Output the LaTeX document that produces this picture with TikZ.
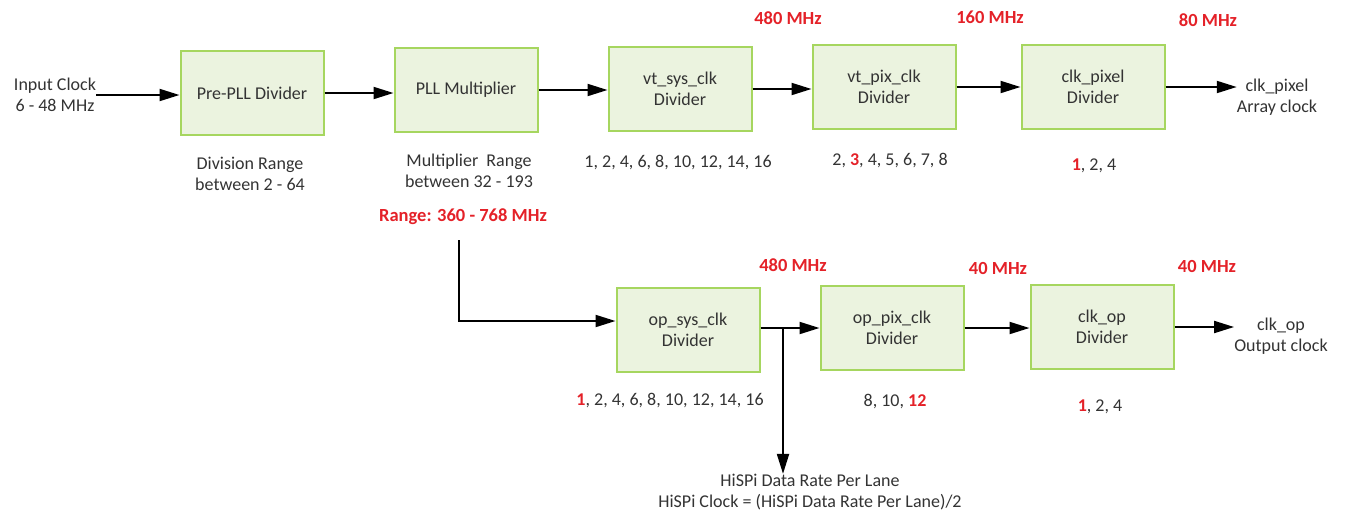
\documentclass[tikz,border=0pt]{standalone}
\usepackage{fontspec}
\setmainfont{Carlito}
\usetikzlibrary{positioning,arrows.meta,calc}
\definecolor{boxfill}{HTML}{EBF3DF}
\definecolor{boxline}{HTML}{A6D65F}
\definecolor{mhzred}{HTML}{E42128}
\definecolor{txtgray}{HTML}{333333}
\newcommand{\hl}[1]{\textcolor{mhzred}{\textbf{#1}}}
\tikzset{
  blk/.style={draw=boxline,fill=boxfill,line width=2pt,minimum width=143pt,
    minimum height=84pt,align=center,text=txtgray,inner sep=0pt},
  lbl/.style={align=center,text=txtgray,inner sep=0pt},
  freq/.style={text=mhzred,font=\fontsize{18.5}{21}\selectfont\bfseries,inner sep=0pt},
  conn/.style={line width=2pt,-{Triangle[length=20pt,width=12pt]}}
}
\begin{document}
\begin{tikzpicture}[x=1pt,y=-1pt,font=\fontsize{18}{21}\selectfont]
  \useasboundingbox (0,0) rectangle (1348,517);
  % upper chain: input, pre divider, PLL and the pixel clock path
  \node[lbl] (incl) at (55,95) {Input Clock\\6 - 48 MHz};
  \node[blk] (prepll) at (252,93) {Pre-PLL Divider};
  \node[blk] (pll) at (466,90) {PLL Multiplier};
  \node[blk] (vtsys) at (680,89) {vt\_sys\_clk\\Divider};
  \node[blk] (vtpix) at (884,87) {vt\_pix\_clk\\Divider};
  \node[blk] (clkpix) at (1093,87) {clk\_pixel\\Divider};
  \node[lbl] (outpix) at (1277,97) {clk\_pixel\\Array clock};

  \node[lbl] (divrng) at (250,174) {Division Range\\between 2 - 64};
  \node[lbl] (mulrng) at (469,171) {Multiplier\ \ Range\\between 32 - 193};
  \node[freq] (rng) at (463,217) {Range: 360 - 768 MHz};
  \node[lbl] (vtsysdiv) at (678,162) {1, 2, 4, 6, 8, 10, 12, 14, 16};
  \node[lbl] (vtpixdiv) at (890,160) {2, \hl{3}, 4, 5, 6, 7, 8};
  \node[lbl] (clkpixdiv) at (1094,166) {\hl{1}, 2, 4};
  \node[freq] (f1) at (788,18) {480 MHz};
  \node[freq] (f2) at (990,17) {160 MHz};
  \node[freq] (f3) at (1208,20) {80 MHz};

  \draw[conn] (incl.east) -- (incl.east -| prepll.west);
  \draw[conn] (prepll.east) -- (prepll.east -| pll.west);
  \draw[conn] (pll.east) -- (pll.east -| vtsys.west);
  \draw[conn] (vtsys.east) -- (vtsys.east -| vtpix.west);
  \draw[conn] (vtpix.east) -- (vtpix.east -| clkpix.west);
  \draw[conn] (clkpix.east) -- (clkpix.east -| outpix.west);

  % lower chain: output clock path
  \node[blk] (opsys) at (688,330) {op\_sys\_clk\\Divider};
  \node[blk] (oppix) at (892,328) {op\_pix\_clk\\Divider};
  \node[blk] (clkop) at (1102,327) {clk\_op\\Divider};
  \node[lbl] (outop) at (1281,336) {clk\_op\\Output clock};
  \node[lbl] (hispi) at (810,492) {HiSPi Data Rate Per Lane\\HiSPi Clock = (HiSPi Data Rate Per Lane)/2};

  \node[lbl] (opsysdiv) at (670,400) {\hl{1}, 2, 4, 6, 8, 10, 12, 14, 16};
  \node[lbl] (oppixdiv) at (895,401) {8, 10, \hl{12}};
  \node[lbl] (clkopdiv) at (1100,407) {\hl{1}, 2, 4};
  \node[freq] (f4) at (793,265) {480 MHz};
  \node[freq] (f5) at (998,268) {40 MHz};
  \node[freq] (f6) at (1207,266) {40 MHz};

  \coordinate (pllout) at (459,240);
  \coordinate (tap) at (783,328);
  \draw[conn] (pllout) |- ([yshift=9pt]opsys.west);
  \draw[conn] (opsys.east |- oppix.west) -- (oppix.west);
  \draw[conn] (tap) -- (tap |- hispi.north);
  \draw[conn] (oppix.east) -- (oppix.east -| clkop.west);
  \draw[conn] (clkop.east) -- (clkop.east -| outop.west);
\end{tikzpicture}
\end{document}
